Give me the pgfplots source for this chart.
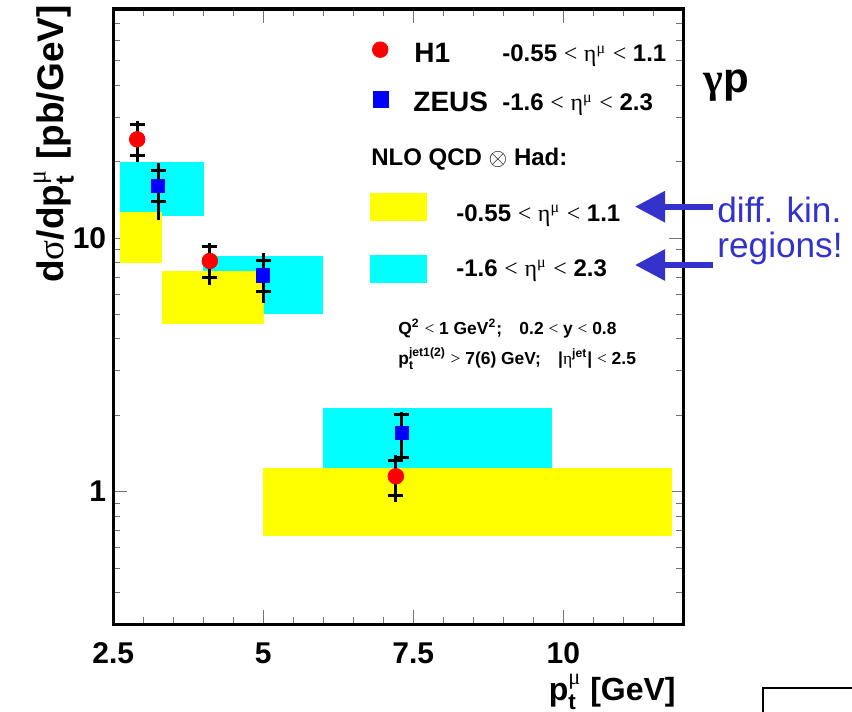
\documentclass[border=0pt]{standalone}
\usepackage{fontspec}
\setmainfont{Liberation Sans}
\newfontfamily\sym{Liberation Serif}
\usepackage{amsmath}
\usepackage{pgfplots}
\pgfplotsset{compat=1.18}
\usetikzlibrary{arrows.meta}
\definecolor{hyellow}{RGB}{255,255,0}
\definecolor{hcyan}{RGB}{0,255,255}
\definecolor{hred}{RGB}{255,0,0}
\definecolor{hblue}{RGB}{0,0,255}
\definecolor{annblue}{RGB}{51,51,204}
\newcommand{\fs}[1]{\fontsize{#1}{#1}\selectfont}
\newcommand{\lt}{{\sym\mdseries <}}
\newcommand{\gt}{{\sym\mdseries >}}
\newcommand{\etamu}{{\sym\mdseries η}\textsuperscript{\sym\mdseries μ}}
\newcommand{\supsub}[2]{\ensuremath{^{\text{#1}}_{\text{#2}}}}
\pgfplotsset{staterr/.style={error bars/.cd, y dir=both, y explicit, error mark=|,
    error bar style={line width=1.5pt, black},
    error mark options={black, line width=1.5pt, mark size=3.75pt}}}

\begin{document}
\begin{tikzpicture}[x=0.5pt,y=0.5pt]
\useasboundingbox (0,0) rectangle (852,712);
\begin{axis}[
    at={(56.6pt,43.85pt)}, anchor=south west,
    scale only axis, width=285.05pt, height=307.65pt,
    xmin=2.5, xmax=12,
    ymode=log, ymin=0.3, ymax=80,
    xtick={2.5,5,7.5,10}, xticklabels={2.5,5,7.5,10},
    minor xtick={3,3.5,4,4.5,5.5,6,6.5,7,8,8.5,9,9.5,10.5,11,11.5},
    ytick={1,10}, yticklabels={1,10},
    minor ytick={0.3,0.4,0.5,0.6,0.7,0.8,0.9,2,3,4,5,6,7,8,9,20,30,40,50,60,70,80},
    tick align=inside,
    major tick length=7pt, minor tick length=3.5pt,
    tick style={black!55, line width=0.5pt},
    axis line style={line width=1.6pt},
    ticklabel style={font=\fs{15}\bfseries},
    xticklabel style={yshift=-5.5pt},
]
% NLO bands, ZEUS range (cyan) under H1 range (yellow)
\addplot[draw=none, fill=hcyan] coordinates {(2.61,12.2) (4.01,12.2) (4.01,19.9) (2.61,19.9)} -- cycle;
\addplot[draw=none, fill=hcyan] coordinates {(4.0,5.02) (6.0,5.02) (6.0,8.49) (4.0,8.49)} -- cycle;
\addplot[draw=none, fill=hcyan] coordinates {(6.0,1.24) (9.81,1.24) (9.81,2.14) (6.0,2.14)} -- cycle;
\addplot[draw=none, fill=hyellow] coordinates {(2.61,8.0) (3.31,8.0) (3.31,12.7) (2.61,12.7)} -- cycle;
\addplot[draw=none, fill=hyellow] coordinates {(3.31,4.59) (5.01,4.59) (5.01,7.39) (3.31,7.39)} -- cycle;
\addplot[draw=none, fill=hyellow] coordinates {(5.0,0.667) (11.81,0.667) (11.81,1.24) (5.0,1.24)} -- cycle;
% legend boxes
\addplot[draw=none, fill=hyellow] coordinates {(6.78,11.67) (7.73,11.67) (7.73,15.09) (6.78,15.09)} -- cycle;
\addplot[draw=none, fill=hcyan] coordinates {(6.78,6.67) (7.73,6.67) (7.73,8.57) (6.78,8.57)} -- cycle;

% total errors
\addplot[only marks, mark=none, error bars/.cd, y dir=both, y explicit, error mark=none,
    error bar style={line width=1.5pt, black}] coordinates {
    (2.90,24.5) += (0,4.5) -= (0,4.6)
    (4.11,8.12) += (0,1.47) -= (0,1.59)
    (7.21,1.15) += (0,0.24) -= (0,0.24)
    (3.25,16.1) += (0,3.6) -= (0,4.3)
    (5.00,7.13) += (0,1.58) -= (0,1.56)
    (7.31,1.70) += (0,0.37) -= (0,0.38)
};
% H1 with statistical errors
\addplot[only marks, mark=*, mark size=3.9pt, mark options={draw=hred, fill=hred}, staterr] coordinates {
    (2.90,24.5) += (0,3.6) -= (0,3.3)
    (4.11,8.12) += (0,1.13) -= (0,1.16)
    (7.21,1.15) += (0,0.18) -= (0,0.18)
};
% ZEUS with statistical errors
\addplot[only marks, mark=square*, mark size=3.3pt, mark options={draw=hblue, fill=hblue}, staterr] coordinates {
    (3.25,16.1) += (0,2.4) -= (0,2.2)
    (5.00,7.13) += (0,0.99) -= (0,1.0)
    (7.31,1.70) += (0,0.32) -= (0,0.33)
};
% legend markers
\addplot[only marks, mark=*, mark size=3.9pt, mark options={draw=hred, fill=hred}] coordinates {(6.95,55.3)};
\addplot[only marks, mark=square*, mark size=3.9pt, mark options={draw=hblue, fill=hblue}] coordinates {(6.96,35.2)};
\end{axis}

% legend text
\node[anchor=base west, inner sep=0, font=\fs{14}\bfseries] at (414,649) {H1};
\node[anchor=base west, inner sep=0, font=\fs{12}\bfseries] at (502,650) {-0.55 \lt\ \etamu\ \lt\ 1.1};
\node[anchor=base west, inner sep=0, font=\fs{14}\bfseries] at (413,600.5) {ZEUS};
\node[anchor=base west, inner sep=0, font=\fs{12}\bfseries] at (502,601) {-1.6 \lt\ \etamu\ \lt\ 2.3};
\node[anchor=base west, inner sep=0, font=\fs{12}\bfseries] at (371,546) {NLO QCD $\otimes$ Had:};
\node[anchor=base west, inner sep=0, font=\fs{12}\bfseries] at (456,490.3) {-0.55 \lt\ \etamu\ \lt\ 1.1};
\node[anchor=base west, inner sep=0, font=\fs{12}\bfseries] at (456,435.3) {-1.6 \lt\ \etamu\ \lt\ 2.3};
\node[anchor=base west, inner sep=0, font=\fs{8.7}\bfseries] at (398,377) {Q\textsuperscript{2} \lt\ 1 GeV\textsuperscript{2};\quad 0.2 \lt\ y \lt\ 0.8};
\node[anchor=base west, inner sep=0, font=\fs{8.7}\bfseries] at (398,347) {p\supsub{jet1(2)}{t} \gt\ 7(6) GeV;\quad |{\sym\mdseries η}\textsuperscript{jet}| \lt\ 2.5};
\node[anchor=base west, inner sep=0, font=\fs{21}\bfseries] at (703,619) {{\sym γ}p};

% annotation arrows
\draw[annblue, line width=3pt, -{Triangle[length=15pt,width=15pt]}] (713,505.3) -- (635,505.3);
\draw[annblue, line width=3pt, -{Triangle[length=15pt,width=15pt]}] (713,447) -- (635,447);
\node[anchor=base west, inner sep=0, font=\fs{17.6}, text=annblue] at (717,489) {diff. kin.};
\node[anchor=base west, inner sep=0, font=\fs{17.6}, text=annblue] at (717,454) {regions!};

% axis titles
\node[anchor=base east, inner sep=0, font=\fs{16}\bfseries] at (676,11) {p\supsub{\sym\mdseries μ}{t} [GeV]};
\node[rotate=90, anchor=base east, inner sep=0, font=\fs{18.5}\bfseries] at (63,707) {d{\sym\mdseries σ}/dp\supsub{\sym\mdseries μ}{t} [pb/GeV]};

% edge of the neighbouring panel
\draw[line width=0.6pt] (763,0) -- (763,24) -- (852,24);
\end{tikzpicture}
\end{document}
